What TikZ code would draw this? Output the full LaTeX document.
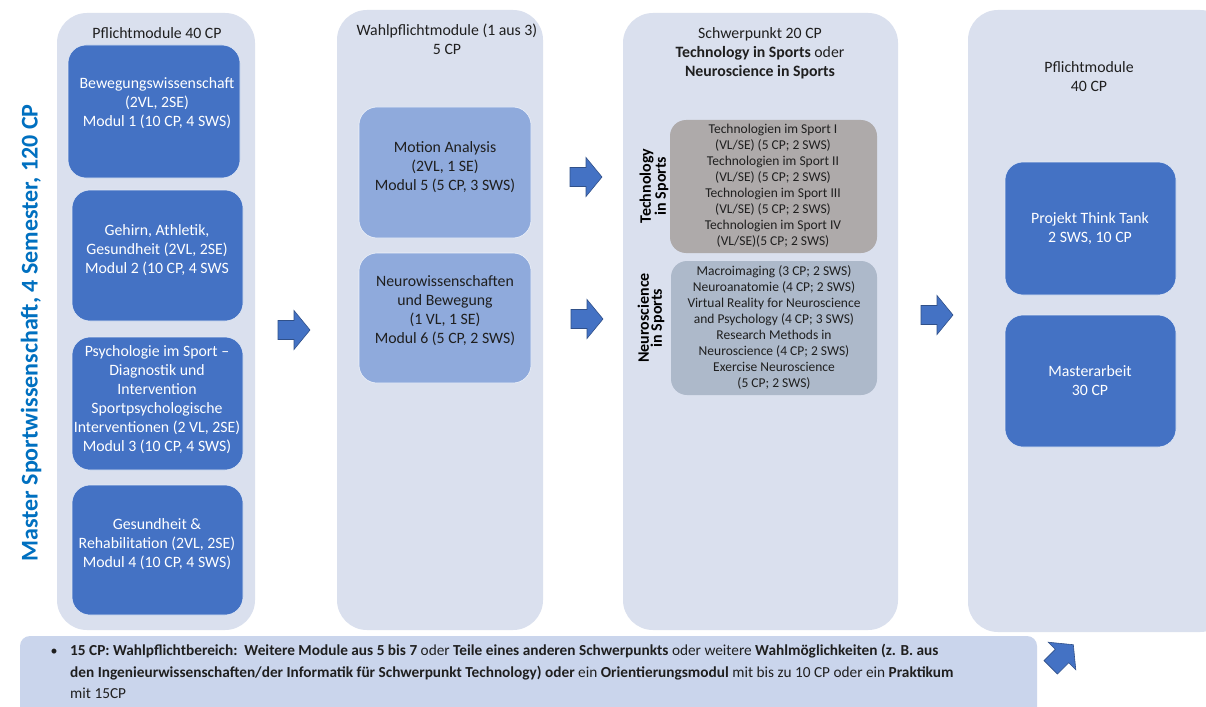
\documentclass[tikz,border=0pt]{standalone}
\usepackage{fontspec}
\setmainfont{Carlito}
\definecolor{colbg}{HTML}{DAE0EE}
\definecolor{dkblue}{HTML}{4472C4}
\definecolor{ltblue}{HTML}{8FAADC}
\definecolor{graybox}{HTML}{AEAAAA}
\definecolor{neubox}{HTML}{ADB9CA}
\definecolor{botbg}{HTML}{CAD5EC}
\definecolor{titleblue}{HTML}{0070C0}
\definecolor{txt}{HTML}{1F1F1F}
\tikzset{
  colbox/.style={fill=colbg, draw=none, rounded corners=30pt, inner sep=0pt},
  darkmod/.style={fill=dkblue, draw=white!85!dkblue, line width=0.6pt, rounded corners=18pt, inner sep=0pt},
  lightmod/.style={fill=ltblue, draw=white!85!ltblue, line width=0.6pt, rounded corners=18pt, inner sep=0pt},
  techbox/.style={fill=graybox, draw=none, rounded corners=16pt, inner sep=0pt},
  neurobox/.style={fill=neubox, draw=none, rounded corners=16pt, inner sep=0pt},
  wtext/.style={text=white, align=center, font=\fontsize{15.8}{19}\selectfont, inner sep=0pt},
  ktext/.style={text=txt, align=center, font=\fontsize{15.8}{19}\selectfont, inner sep=0pt},
  smalltext/.style={text=txt, align=center, font=\fontsize{13.5}{16}\selectfont, inner sep=0pt},
  sidelabel/.style={text=black, align=center, rotate=90, font=\bfseries\fontsize{16}{13}\selectfont, inner sep=0pt},
  barrow/.pic={\filldraw[fill=dkblue, draw=dkblue!70!black, line width=0.6pt]
     (-16,-9.5) -- (0,-9.5) -- (0,-19.5) -- (16,0) -- (0,19.5) -- (0,9.5) -- (-16,9.5) -- cycle;},
}
\begin{document}
\begin{tikzpicture}[x=1pt,y=-1pt]
\clip (0,0) rectangle (1206,706);
\fill[white] (0,0) rectangle (1206,706);

% columns
\node[colbox, minimum width=198pt, minimum height=617pt] (c1) at (156,321.5) {};
\node[colbox, minimum width=206pt, minimum height=620pt] (c2) at (440,320) {};
\node[colbox, minimum width=275pt, minimum height=617pt] (c3) at (760.5,321.5) {};
\node[colbox, minimum width=262pt, minimum height=622pt] (c4) at (1099,321) {};

% main vertical title
\node[rotate=90, text=titleblue, font=\bfseries\fontsize{24}{26}\selectfont, inner sep=0pt] (mtitle) at (31,333) {Master Sportwissenschaft, 4 Semester, 120 CP};

% column 1
\node[ktext] (t1) at (157,33) {Pflichtmodule 40 CP};
\node[darkmod, minimum width=172pt, minimum height=133pt] (m1) at (154,111.5) {};
\node[wtext] (m1t) at (157,103) {Bewegungswissenschaft\\(2VL, 2SE)\\ Modul 1 (10 CP, 4 SWS)};
\node[darkmod, minimum width=171pt, minimum height=131pt] (m2) at (157.5,255.5) {};
\node[wtext] (m2t) at (157,250) {Gehirn, Athletik,\\Gesundheit (2VL, 2SE)\\Modul 2 (10 CP, 4 SWS};
\node[darkmod, minimum width=171pt, minimum height=133pt] (m3) at (157.5,403.5) {};
\node[wtext] (m3t) at (157,399.5) {Psychologie im Sport --\\Diagnostik und\\Intervention\\Sportpsychologische\\Interventionen (2 VL, 2SE)\\Modul 3 (10 CP, 4 SWS)};
\node[darkmod, minimum width=171pt, minimum height=130pt] (m4) at (157.5,550) {};
\node[wtext] (m4t) at (157,544) {Gesundheit \&\\Rehabilitation (2VL, 2SE)\\Modul 4 (10 CP, 4 SWS)};

% column 2
\node[ktext] (t2) at (447,39.5) {Wahlpflichtmodule (1 aus 3)\\5 CP};
\node[lightmod, minimum width=172pt, minimum height=131pt] (m5) at (445,172.5) {};
\node[ktext] (m5t) at (445,167) {Motion Analysis\\(2VL, 1 SE)\\Modul 5 (5 CP, 3 SWS)};
\node[lightmod, minimum width=172pt, minimum height=130pt] (m6) at (445,318) {};
\node[ktext] (m6t) at (445,310.5) {Neurowissenschaften\\und Bewegung\\(1 VL, 1 SE)\\Modul 6 (5 CP, 2 SWS)};

% column 3
\node[ktext] (t3) at (760,53.5) {Schwerpunkt 20 CP\\\textbf{Technology in Sports} oder\\\textbf{Neuroscience in Sports}};
\node[techbox, minimum width=207pt, minimum height=133pt] (tech) at (773.5,186.5) {};
\node[smalltext] (techt) at (773,186) {Technologien im Sport I\\(VL/SE) (5 CP; 2 SWS)\\Technologien im Sport II\\(VL/SE) (5 CP; 2 SWS)\\Technologien im Sport III\\(VL/SE) (5 CP; 2 SWS)\\Technologien im Sport IV\\(VL/SE)(5 CP; 2 SWS)};
\node[sidelabel] (techl) at (654,186) {Technology\\in Sports};
\node[neurobox, minimum width=206pt, minimum height=134pt] (neuro) at (774,328) {};
\node[smalltext] (neurot) at (774,327.5) {Macroimaging (3 CP; 2 SWS)\\Neuroanatomie (4 CP; 2 SWS)\\Virtual Reality for Neuroscience\\and Psychology (4 CP; 3 SWS)\\Research Methods in\\Neuroscience (4 CP; 2 SWS)\\Exercise Neuroscience\\(5 CP; 2 SWS)};
\node[sidelabel] (neurol) at (651,318) {Neuroscience\\in Sports};

% column 4
\node[ktext] (t4) at (1089,77) {Pflichtmodule\\40 CP};
\node[darkmod, minimum width=171pt, minimum height=133pt] (m7) at (1090.5,228.5) {};
\node[wtext] (m7t) at (1090,229) {Projekt Think Tank\\2 SWS, 10 CP};
\node[darkmod, minimum width=171pt, minimum height=132pt] (m8) at (1090.5,381) {};
\node[wtext] (m8t) at (1090,381) {Masterarbeit\\30 CP};

% block arrows
\pic at (294,330) {barrow};
\pic at (586,177) {barrow};
\pic at (587,319) {barrow};
\pic at (937,315) {barrow};
\pic[rotate=45] at (1062,656) {barrow};

% bottom box
\node[fill=botbg, rounded corners=10pt, minimum width=1017pt, minimum height=90pt, inner sep=0pt] (bot) at (528.5,681) {};
\node[text=txt, font=\fontsize{14}{16}\selectfont, inner sep=0pt] (bul) at (54,652) {\textbullet};
\node[text=txt, anchor=north west, align=left, font=\fontsize{15.3}{21.5}\selectfont, inner sep=0pt] (bott) at (70,644) {\textbf{15 CP: Wahlpflichtbereich:\ \ Weitere Module aus 5 bis 7} oder \textbf{Teile eines anderen Schwerpunkts} oder weitere \textbf{Wahlmöglichkeiten (z. B. aus}\\\textbf{den Ingenieurwissenschaften/der Informatik für Schwerpunkt Technology) oder} ein \textbf{Orientierungsmodul} mit bis zu 10 CP oder ein \textbf{Praktikum}\\mit 15CP};
\end{tikzpicture}
\end{document}
